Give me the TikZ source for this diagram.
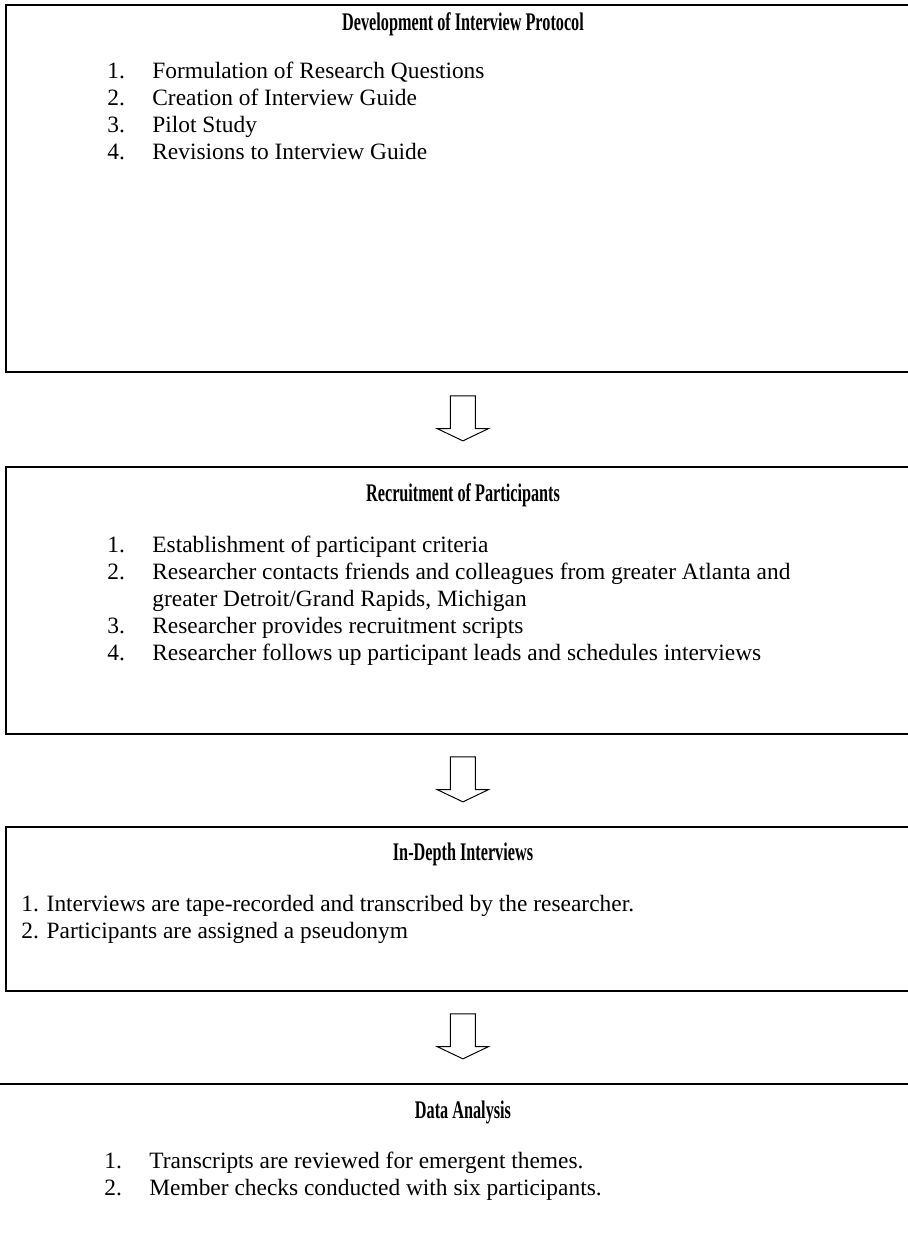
\documentclass[tikz,border=0pt]{standalone}
\usepackage{fontspec}
\setmainfont{Liberation Serif}
\newfontfamily\headfont{Liberation Serif}[FakeStretch=0.64]
\usetikzlibrary{shapes.arrows,calc}
\newlength{\pxu}
\setlength{\pxu}{0.5128pt}

\begin{document}
\begin{tikzpicture}[x=\pxu, y=-\pxu, font=\fontsize{12}{13.8}\selectfont,
  stage/.style={draw, line width=0.9pt, anchor=north west, minimum width=914\pxu,
    inner sep=0pt},
  heading/.style={anchor=base, inner sep=0pt,
    font=\fontsize{13}{15}\selectfont\headfont\bfseries},
  steps/.style={anchor=base west, inner sep=0pt, align=left},
  flowarrow/.style={single arrow, draw, line width=0.5pt, rotate=-90,
    inner xsep=0pt, inner ysep=12\pxu, minimum height=45\pxu,
    single arrow head extend=13\pxu, single arrow tip angle=129}]
\useasboundingbox (0,0) rectangle (908,1251);
% stages
\node[stage, minimum height=367\pxu] (dev) at (5,4) {};
\node[stage, minimum height=267\pxu] (rec) at (5,466) {};
\node[stage, minimum height=164\pxu] (idi) at (5,826) {};
\node[stage, minimum width=940\pxu, minimum height=240\pxu] (ana) at (-12,1083) {};
% headings
\node[heading] (devh) at (463,30) {Development of Interview Protocol};
\node[heading] (rech) at (463,501) {Recruitment of Participants};
\node[heading] (idih) at (463,860) {In-Depth Interviews};
\node[heading] (anah) at (463,1118) {Data Analysis};
% protocol steps
\node[steps] (dev1) at (107,78) {\makebox[45\pxu][l]{1.}Formulation of Research Questions};
\node[steps] (dev2) at (107,105) {\makebox[45\pxu][l]{2.}Creation of Interview Guide};
\node[steps] (dev3) at (107,132) {\makebox[45\pxu][l]{3.}Pilot Study};
\node[steps] (dev4) at (107,159) {\makebox[45\pxu][l]{4.}Revisions to Interview Guide};
% recruitment steps
\node[steps] (rec1) at (107,552) {\makebox[45\pxu][l]{1.}Establishment of participant criteria};
\node[steps] (rec2) at (107,606) {\makebox[45\pxu][l]{2.}Researcher contacts friends and colleagues from greater Atlanta and\\
  \hspace*{45\pxu}greater Detroit/Grand Rapids, Michigan};
\node[steps] (rec3) at (107,633) {\makebox[45\pxu][l]{3.}Researcher provides recruitment scripts};
\node[steps] (rec4) at (107,660) {\makebox[45\pxu][l]{4.}Researcher follows up participant leads and schedules interviews};
% interview steps
\node[steps] (idi1) at (21,911) {1. Interviews are tape-recorded and transcribed by the researcher.};
\node[steps] (idi2) at (21,938) {2. Participants are assigned a pseudonym};
% analysis steps
\node[steps] (ana1) at (104,1168) {\makebox[45\pxu][l]{1.}Transcripts are reviewed for emergent themes.};
\node[steps] (ana2) at (104,1195) {\makebox[45\pxu][l]{2.}Member checks conducted with six participants.};
% arrows between stages
\node[flowarrow] (a1) at ($(dev.south)!0.5!(rec.north)+(0,-4)$) {};
\node[flowarrow] (a2) at ($(rec.south)!0.5!(idi.north)+(0,-4)$) {};
\node[flowarrow] (a3) at ($(idi.south)!0.5!(ana.north -| dev.south)+(0,-4)$) {};
\end{tikzpicture}
\end{document}
